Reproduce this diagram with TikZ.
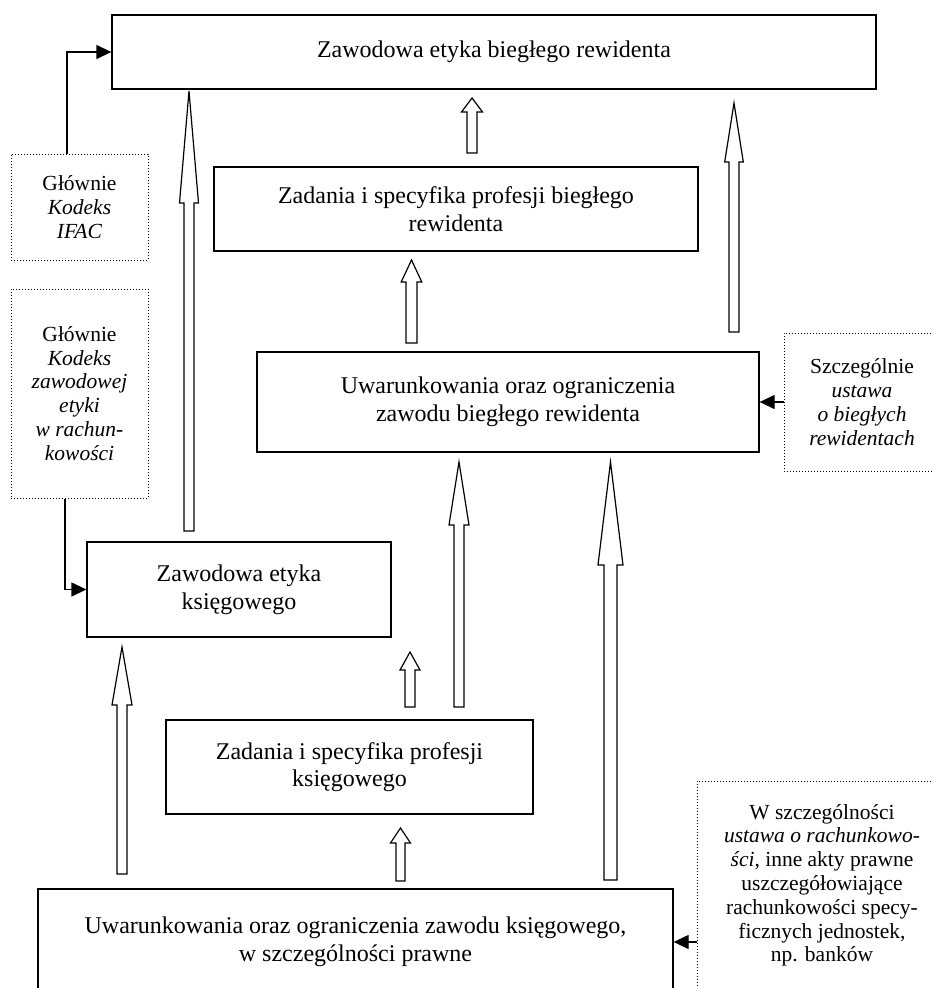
\documentclass[tikz,border=0pt]{standalone}
\usepackage{fontspec}
\setmainfont{Liberation Serif}
\usetikzlibrary{arrows.meta}
\newcommand\mainsz{\fontsize{24}{27.6}\selectfont}
\newcommand\notesz{\fontsize{21.5}{23.8}\selectfont}
% block arrow: x, shaft half-width, head half-width, tip y, head-base y, bottom y
\newcommand\blkarr[6]{\draw[blk] (#1-#2,#6) -- (#1-#2,#5) -- (#1-#3,#5) -- (#1,#4) -- (#1+#3,#5) -- (#1+#2,#5) -- (#1+#2,#6) -- cycle;}
\begin{document}
\begin{tikzpicture}[x=1pt,y=-1pt,
  box/.style={draw, line width=1.3pt, inner sep=0pt, align=center, font=\mainsz},
  dotbox/.style={draw, line width=1pt, dash pattern=on 1pt off 2pt, inner sep=0pt, align=center, font=\notesz},
  conn/.style={line width=1.3pt, -{Triangle[length=15pt,width=14pt]}},
  blk/.style={draw, fill=white, line width=1.2pt, line join=miter}]
\useasboundingbox (0,0) rectangle (932,988);
\clip (0,0) rectangle (932,988);
\fill[white] (0,0) rectangle (932,988);

% main boxes
\node[box, minimum width=764pt, minimum height=74pt] (etR) at (494,52) {Zawodowa etyka biegłego rewidenta};
\node[box, minimum width=484pt, minimum height=84pt] (zadR) at (456,209) {Zadania i specyfika profesji biegłego\\rewidenta};
\node[box, minimum width=502pt, minimum height=100pt] (uwaR) at (508,402) {Uwarunkowania oraz ograniczenia\\zawodu biegłego rewidenta};
\node[box, minimum width=304pt, minimum height=95pt] (etK) at (239,589.5) {Zawodowa etyka\\księgowego};
\node[box, minimum width=367pt, minimum height=94pt] (zadK) at (349.5,767) {Zadania i specyfika profesji\\księgowego};
\node[box, minimum width=635pt, minimum height=106pt] (uwaK) at (355.5,942) {Uwarunkowania oraz ograniczenia zawodu księgowego,\\w szczególności prawne};

% dotted source boxes
\node[dotbox, minimum width=137pt, minimum height=106pt] (ifac) at (79.5,207) {Głównie\\\textit{Kodeks}\\\textit{IFAC}};
\node[dotbox, minimum width=137pt, minimum height=209pt] (kzer) at (79.5,393.5) {Głównie\\\textit{Kodeks}\\\textit{zawodowej}\\\textit{etyki}\\\textit{w rachun-}\\\textit{kowości}};
\node[dotbox, minimum width=156pt, minimum height=138pt] (uobr) at (862,402) {Szczególnie\\\textit{ustawa}\\\textit{o biegłych}\\\textit{rewidentach}};
\node[dotbox, minimum width=250pt, minimum height=322pt] (uor) at (822,942) {};
\node[font=\notesz, align=center, anchor=north, inner sep=0pt] (uortxt) at (822,804) {W szczególności\\\textit{ustawa o rachunkowo-}\\\textit{ści}, inne akty prawne\\uszczegółowiające\\rachunkowości specy-\\ficznych jednostek,\\np. banków};

% connectors from sources
\draw[conn] ([xshift=-12.5pt]ifac.north) |- (etR.west);
\draw[conn] ([xshift=-14.5pt]kzer.south) |- (etK.west);
\draw[conn] (uobr.west) -- (uwaR.east);
\draw[conn] (uor.west) -- (uwaK.east);

% block arrows
\blkarr{472}{5}{10.5}{98}{112}{153}
\blkarr{189}{5}{9.5}{91}{203}{531}
\blkarr{734}{5}{9.3}{103}{162}{332}
\blkarr{411.5}{5.5}{10.3}{260}{282}{343}
\blkarr{122}{5}{10}{647}{705}{874}
\blkarr{410}{5}{10}{652}{670}{707}
\blkarr{459}{5}{10}{462}{525}{707}
\blkarr{610.5}{6.5}{12.5}{462}{565}{880}
\blkarr{400.5}{4.5}{10}{828}{843}{881}
\end{tikzpicture}
\end{document}
